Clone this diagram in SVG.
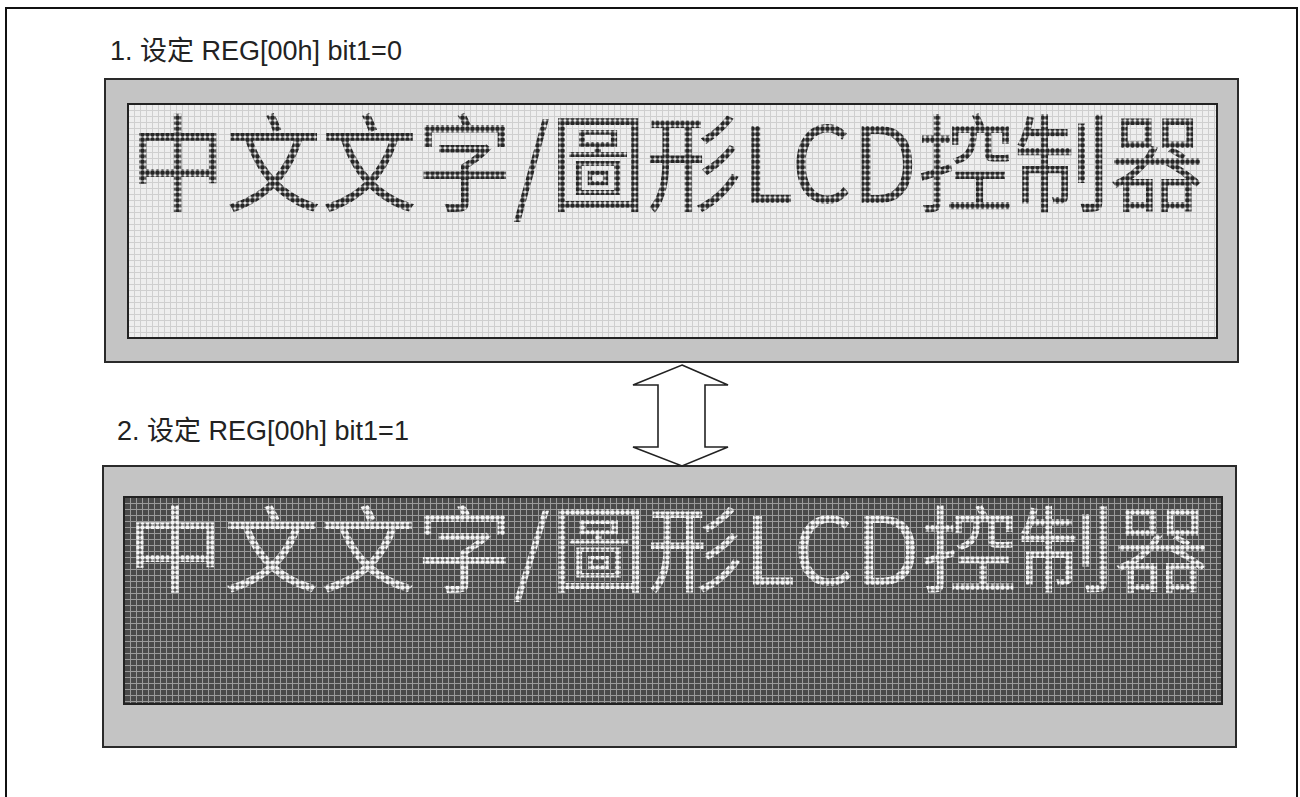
<svg xmlns="http://www.w3.org/2000/svg" width="1300" height="797" viewBox="0 0 1300 797">
  <defs>
    <pattern id="gridLight" x="128" y="104" width="6" height="6" patternUnits="userSpaceOnUse">
      <rect width="6" height="6" fill="#eeeeee"/>
      <path d="M0 0.5H6M0.5 0V6" stroke="#cfcfcf" stroke-width="1"/>
    </pattern>
    <pattern id="gridDark" x="124" y="497" width="6" height="6" patternUnits="userSpaceOnUse">
      <rect width="6" height="6" fill="#4a4a4a"/>
      <path d="M0 0.5H6M0.5 0V6" stroke="#9a9a9a" stroke-width="1"/>
    </pattern>
    <pattern id="dotsDark" x="0" y="0" width="5" height="5" patternUnits="userSpaceOnUse">
      <circle cx="2.5" cy="2.5" r="2.3" fill="#262626"/>
    </pattern>
    <pattern id="dotsLight" x="0" y="0" width="5" height="5" patternUnits="userSpaceOnUse">
      <circle cx="2.5" cy="2.5" r="2.3" fill="#f4f4f4"/>
    </pattern>
  </defs>
  <style>
    .frame { fill: #ffffff; stroke: #111111; stroke-width: 2; }
    .bezel { fill: #c4c4c4; stroke: #2a2a2a; stroke-width: 2; }
    .screen { stroke: #222222; stroke-width: 2; }
    .label { font-family: "Liberation Sans", "Noto Sans CJK SC", sans-serif; font-size: 27px; fill: #222222; }
    .lcd { font-family: "Noto Sans CJK TC", "Noto Sans CJK SC", sans-serif; font-weight: 400; }
    .arrow { fill: #ffffff; stroke: #222222; stroke-width: 1.6; stroke-linejoin: miter; }
  </style>
  <rect x="0" y="0" width="1300" height="797" fill="#ffffff"/>
  <rect class="frame" x="6" y="8" width="1291" height="800"/>

  <g id="label1">
    <text class="label" x="110" y="60">1. 设定 REG[00h] bit1=0</text>
  </g>

  <g id="panel1">
    <rect class="bezel" x="105" y="79" width="1133" height="283"/>
    <rect class="screen" x="128" y="104" width="1089" height="234" fill="url(#gridLight)"/>
    <text class="lcd" transform="translate(130,203) scale(1,1.1)" x="0" y="0" font-size="96" fill="url(#dotsDark)" textLength="1075" lengthAdjust="spacingAndGlyphs">中文文字/圖形LCD控制器</text>
  </g>

  <g id="label2">
    <text class="label" x="117" y="440">2. 设定 REG[00h] bit1=1</text>
  </g>

  <g id="panel2">
    <rect class="bezel" x="103" y="466" width="1133" height="281"/>
    <rect class="screen" x="124" y="497" width="1098" height="207" fill="url(#gridDark)"/>
    <text class="lcd" x="127" y="585" font-size="94" fill="url(#dotsLight)" textLength="1083" lengthAdjust="spacingAndGlyphs">中文文字/圖形LCD控制器</text>
  </g>

  <g id="connectors">
    <polygon class="arrow" points="682,365 728,385 705,385 705,447 728,447 682,466 633,447 658,447 658,385 633,385"/>
  </g>
</svg>
